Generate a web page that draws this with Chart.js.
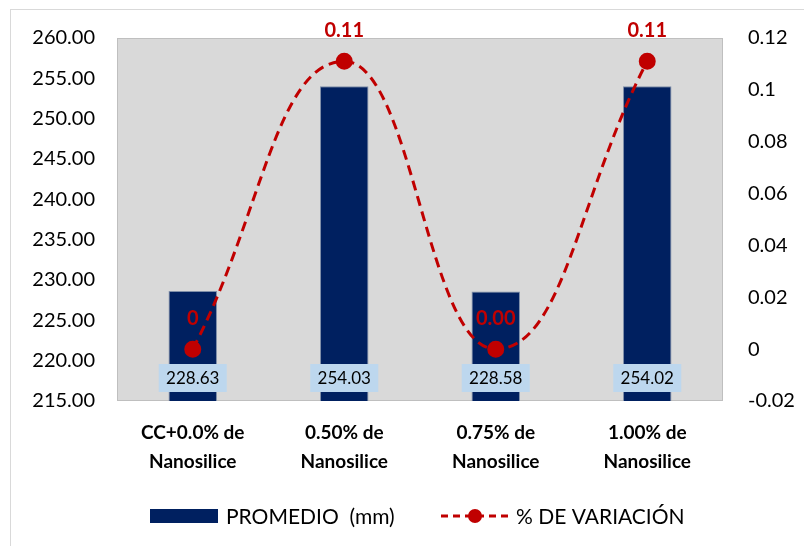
<!DOCTYPE html>
<html>
<head>
<meta charset="utf-8">
<script src="https://cdn.jsdelivr.net/npm/chart.js@4.4.0/dist/chart.umd.min.js"></script>
<style>
  html, body { margin: 0; padding: 0; background: #fff; }
  #wrap { position: relative; width: 804px; height: 546px; overflow: hidden; }
  #frame { position: absolute; left: 10px; top: 9px; width: 800px; height: 545px; border: 1px solid #d9d9d9; box-sizing: border-box; }
  #chart { position: absolute; left: 0; top: 0; }
</style>
</head>
<body>
<div id="wrap">
  <div id="frame"></div>
  <canvas id="chart" width="804" height="546"></canvas>
</div>
<script>
// ============= Data =============
const categories = [
    ['CC+0.0% de', 'Nanosilice'],
    ['0.50% de', 'Nanosilice'],
    ['0.75% de', 'Nanosilice'],
    ['1.00% de', 'Nanosilice']
];
const promedio = [228.63, 254.03, 228.58, 254.02];
const variacion = [0, 0.111, 0, 0.111];
const variacionLabels = ['0', '0.11', '0.00', '0.11'];

const FONT = 'Lato, "Open Sans", sans-serif';
const NAVY = '#002060';
const RED = '#c00000';

// Plot background + border
const plotBg = {
    id: 'plotBg',
    beforeDraw(chart) {
        const { ctx, chartArea: a } = chart;
        ctx.save();
        ctx.fillStyle = '#d9d9d9';
        ctx.fillRect(a.left, a.top, a.right - a.left, a.bottom - a.top);
        ctx.strokeStyle = '#bfbfbf';
        ctx.lineWidth = 1;
        ctx.strokeRect(a.left + 0.5, a.top + 0.5, a.right - a.left - 1, a.bottom - a.top - 1);
        ctx.restore();
    }
};

// Data labels and legend
const labelsPlugin = {
    id: 'labelsPlugin',
    afterDatasetsDraw(chart) {
        const { ctx, chartArea } = chart;
        const xScale = chart.scales.x;
        ctx.save();
        ctx.textAlign = 'center';
        ctx.textBaseline = 'middle';

        // bar labels (inside base, light blue box)
        promedio.forEach((v, i) => {
            const cx = xScale.getPixelForValue(i);
            const cy = chartArea.bottom - 23;
            ctx.fillStyle = '#bdd7ee';
            ctx.fillRect(cx - 34, cy - 14, 68, 28);
            ctx.fillStyle = '#000';
            ctx.font = '17px ' + FONT;
            ctx.fillText(v.toFixed(2), cx, cy + 1);
        });

        // line labels above points
        ctx.font = 'bold 20px ' + FONT;
        ctx.fillStyle = RED;
        chart.getDatasetMeta(0).data.forEach((pt, i) => {
            ctx.fillText(variacionLabels[i], pt.x, pt.y - 31);
        });

        // legend
        const ly = 516;
        ctx.fillStyle = NAVY;
        ctx.fillRect(150, ly - 7, 68, 14);
        ctx.fillStyle = '#000';
        ctx.textAlign = 'left';
        ctx.font = '21px ' + FONT;
        ctx.fillText('PROMEDIO  (mm)', 226, ly + 1);

        ctx.strokeStyle = RED;
        ctx.lineWidth = 3;
        ctx.setLineDash([7, 5]);
        ctx.beginPath();
        ctx.moveTo(441, ly);
        ctx.lineTo(509, ly);
        ctx.stroke();
        ctx.setLineDash([]);
        ctx.fillStyle = RED;
        ctx.beginPath();
        ctx.arc(475, ly, 7, 0, Math.PI * 2);
        ctx.fill();
        ctx.fillStyle = '#000';
        ctx.fillText('% DE VARIACIÓN', 516, ly + 1);
        ctx.restore();
    }
};

new Chart(document.getElementById('chart'), {
    data: {
        labels: categories,
        datasets: [
            {
                type: 'line',
                label: '% DE VARIACIÓN',
                data: variacion,
                yAxisID: 'y1',
                borderColor: RED,
                borderWidth: 3,
                borderDash: [10, 6],
                tension: 0.45,
                pointRadius: 7,
                pointBackgroundColor: RED,
                pointBorderColor: RED,
                order: 0
            },
            {
                type: 'bar',
                label: 'PROMEDIO  (mm)',
                data: promedio,
                yAxisID: 'y',
                backgroundColor: NAVY,
                borderColor: '#7f8fa9',
                borderWidth: 1,
                barPercentage: 0.32,
                categoryPercentage: 1,
                order: 1
            }
        ]
    },
    options: {
        responsive: false,
        animation: false,
        layout: { padding: { top: 38, left: 0, right: 0, bottom: 0 } },
        plugins: { legend: { display: false }, tooltip: { enabled: false } },
        scales: {
            x: {
                grid: { display: false, drawTicks: false },
                border: { display: false },
                ticks: { color: '#000', font: { family: FONT, size: 19, weight: 'bold', lineHeight: 1.5 }, padding: 18, maxRotation: 0 },
                afterFit(s) { s.height = 145; }
            },
            y: {
                position: 'left',
                min: 215, max: 260,
                grid: { display: false, drawTicks: false },
                border: { display: false },
                ticks: { stepSize: 5, color: '#000', font: { family: FONT, size: 20 }, padding: 22,
                    callback: v => v.toFixed(2) },
                afterFit(s) { s.width = 117; }
            },
            y1: {
                position: 'right',
                min: -0.02, max: 0.12,
                grid: { display: false, drawTicks: false },
                border: { display: false },
                ticks: { stepSize: 0.02, color: '#000', font: { family: FONT, size: 20 }, padding: 25,
                    callback: v => String(parseFloat(v.toFixed(2))) },
                afterFit(s) { s.width = 81; }
            }
        }
    },
    plugins: [plotBg, labelsPlugin]
});
</script>
</body>
</html>
